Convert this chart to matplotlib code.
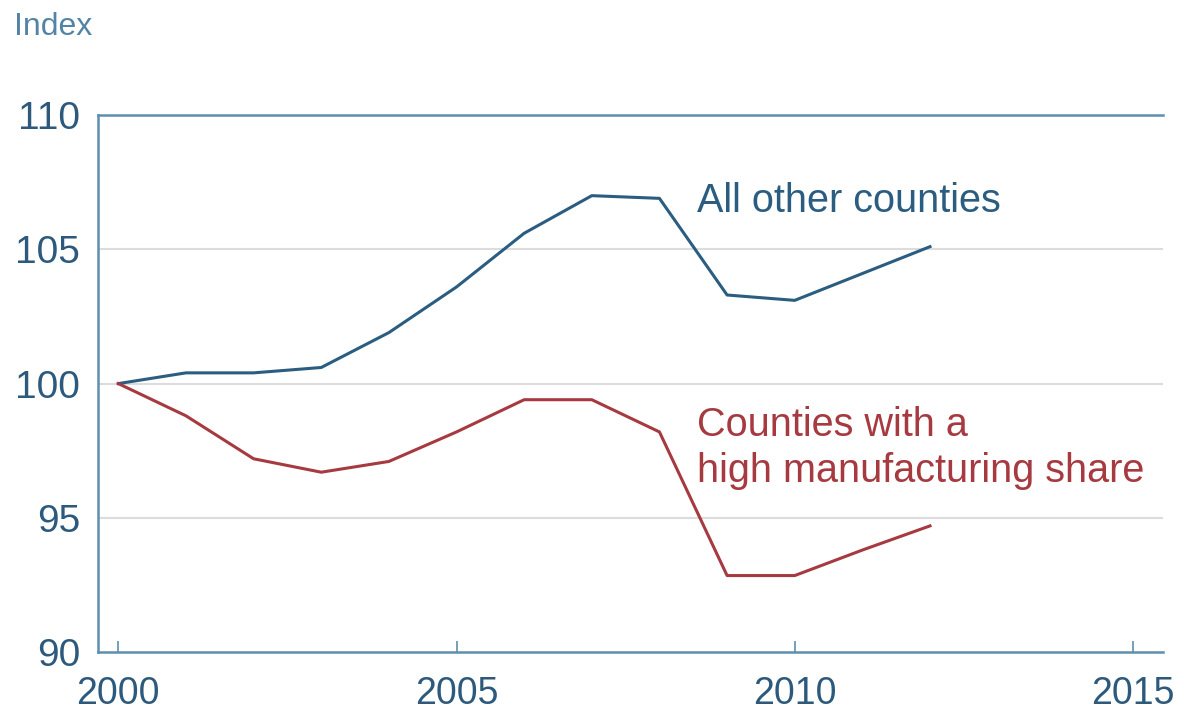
import matplotlib.pyplot as plt

years = [2000, 2001, 2002, 2003, 2004, 2005, 2006, 2007, 2008, 2009, 2010, 2011, 2012]
other = [100.0, 100.4, 100.4, 100.6, 101.9, 103.6, 105.6, 107.0, 106.9, 103.3, 103.1, 104.1, 105.1]
manuf = [100.0, 98.8, 97.2, 96.7, 97.1, 98.2, 99.4, 99.4, 98.2, 92.85, 92.85, 93.8, 94.7]
xticks = [2000, 2005, 2010, 2015]
yticks = [90, 95, 100, 105, 110]

plt.rcParams['font.family'] = ['Liberation Sans', 'DejaVu Sans']

blue = "#2b5d80"
red = "#a63a40"
spine_col = "#5e8fad"
text_col = "#2d5a7c"

fig = plt.figure(figsize=(11.84, 7.15), dpi=100)
ax = fig.add_axes([0.0828, 0.088, 0.8992, 0.751])

for y in [95, 100, 105]:
    ax.axhline(y, color="#dcdcdc", lw=1.5, zorder=0)

ax.plot(years, other, color=blue, lw=2.2)
ax.plot(years, manuf, color=red, lw=2.2)

ax.set_xlim(1999.7, 2015.44)
ax.set_ylim(90, 110)
ax.set_xticks(xticks)
ax.set_yticks(yticks)

for s in ["left", "bottom", "top"]:
    ax.spines[s].set_color(spine_col)
    ax.spines[s].set_linewidth(1.8)
ax.spines["right"].set_visible(False)

ax.tick_params(axis="x", direction="in", length=8, width=1.2, color=spine_col,
               labelsize=27, labelcolor=text_col, pad=17)
ax.tick_params(axis="y", length=0, labelsize=28, labelcolor=text_col, pad=13)

ax.text(2008.55, 106.8, "All other counties", color=blue, fontsize=28.5, va="center")
ax.text(2008.55, 97.6, "Counties with a\nhigh manufacturing share", color=red,
        fontsize=28.5, va="center", linespacing=1.28)

fig.text(0.012, 0.962, "Index", color="#5384a5", fontsize=23, va="center")

fig.savefig("out.png", dpi=100)
